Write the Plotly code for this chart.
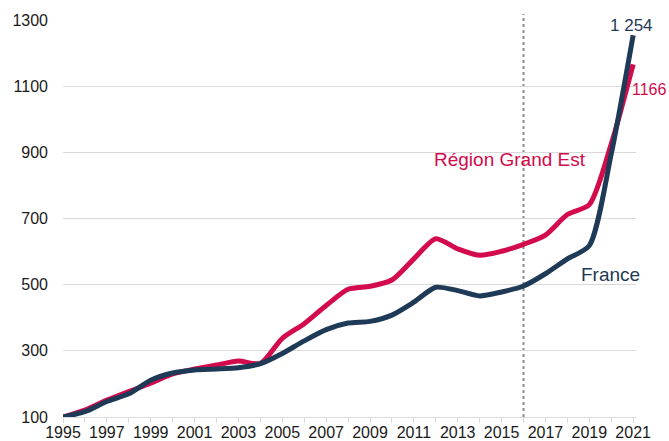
import plotly.graph_objects as go

years = list(range(1995, 2022))
france = [100, 116, 147, 170, 211, 233, 242, 245, 249, 261, 292, 330, 364, 384, 389, 408,
          447, 492, 482, 466, 478, 496, 533, 578, 618, 895, 1254]
grand_est = [100, 121, 151, 177, 202, 230, 245, 257, 269, 262, 338, 382, 437, 486, 495, 514,
             578, 639, 608, 589, 601, 622, 650, 712, 742, 925, 1166]
tick_labels = [str(y) if y % 2 == 1 else "" for y in years]
marker_year = 2016

navy = "#1e3a56"
red = "#d30a4b"

fig = go.Figure()

# dotted marker line
fig.add_shape(type="line", x0=marker_year, x1=marker_year, y0=0, y1=1.015,
              xref="x", yref="paper", layer="below",
              line=dict(color="#8c8c8c", width=2, dash="dot"))

fig.add_trace(go.Scatter(x=years, y=grand_est, mode="lines", name="Région Grand Est",
                         line=dict(color=red, width=5, shape="spline", smoothing=0.7)))
fig.add_trace(go.Scatter(x=years, y=france, mode="lines", name="France",
                         line=dict(color=navy, width=5, shape="spline", smoothing=0.7)))

# labels
fig.add_annotation(x=years[-1], y=france[-1], text="1 254", showarrow=False,
                   xanchor="center", yanchor="middle", xshift=-2, yshift=10,
                   font=dict(color=navy, size=17))
fig.add_annotation(x=years[-1], y=grand_est[-1], text="1166", showarrow=True,
                   arrowhead=0, arrowwidth=1, arrowcolor="#a6a6a6",
                   ax=16, ay=25,
                   font=dict(color=red, size=16))
fig.add_annotation(x=2015.4, y=878, text="Région Grand Est", showarrow=False,
                   font=dict(color=red, size=19))
fig.add_annotation(x=2019.95, y=530, text="France", showarrow=False,
                   font=dict(color=navy, size=19))

fig.update_xaxes(range=[1995, 2021.13], tickvals=years, ticktext=tick_labels,
                 ticks="outside", ticklen=5, tickcolor="#d9d9d9",
                 showline=True, linecolor="#d9d9d9", linewidth=1,
                 showgrid=False, zeroline=False, automargin=False,
                 ticklabelstandoff=-4,
                 tickfont=dict(size=16, color="#1a1a1a"))
fig.update_yaxes(range=[100, 1300], tickvals=[100, 300, 500, 700, 900, 1100, 1300],
                 showgrid=True, gridcolor="#d9d9d9", gridwidth=1,
                 showline=False, zeroline=False, automargin=False,
                 ticklabelstandoff=14,
                 tickfont=dict(size=16, color="#1a1a1a"))

fig.update_layout(
    width=669, height=441,
    margin=dict(l=63, r=33, t=20, b=24),
    plot_bgcolor="white", paper_bgcolor="white",
    showlegend=False,
    font=dict(family="Liberation Sans, Arial, sans-serif"),
)

# drop the page's default body margin so the figure fills the window
fig.write_html("out.html", config={"displayModeBar": False},
               post_script="document.body.style.margin='0';document.body.style.overflow='hidden';")
